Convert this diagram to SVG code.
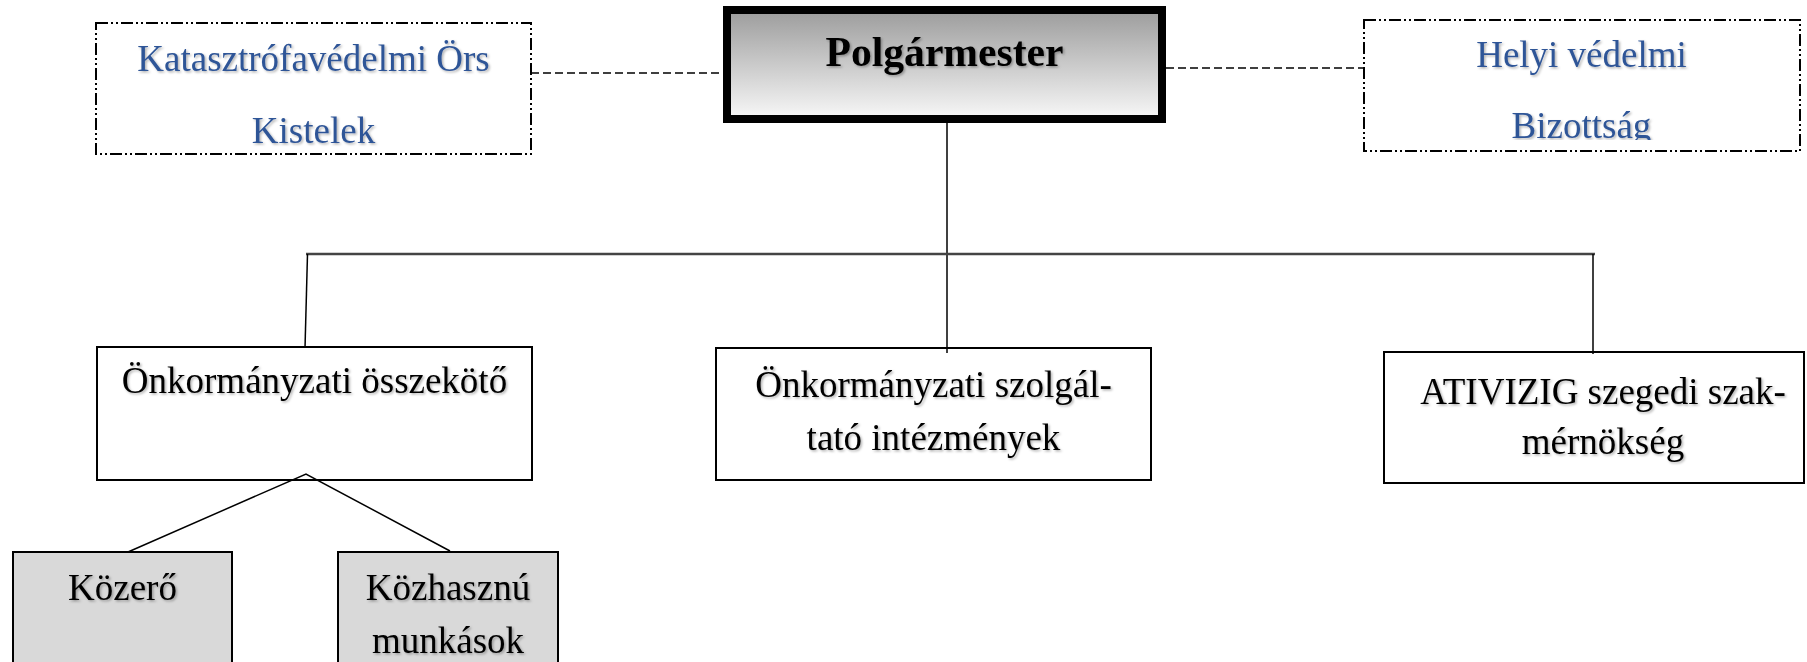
<svg xmlns="http://www.w3.org/2000/svg" width="1807" height="662" viewBox="0 0 1807 662">
<style>
.t{font-family:"Liberation Serif","Times New Roman",serif;font-size:37px;text-anchor:middle;fill:#000;filter:url(#sh)}
.b{fill:#2f5597}
.box{fill:#fff;stroke:#000;stroke-width:2}
.grey{fill:#d9d9d9;stroke:#000;stroke-width:2}
.dd{fill:#fff;stroke:#000;stroke-width:2;stroke-dasharray:12 3 2 3 2 3}
.c{fill:none;stroke:#000;stroke-width:1.5}
</style>
<defs>
<linearGradient id="g" x1="0" y1="0" x2="0" y2="1">
<stop offset="0" stop-color="#9c9c9c"/>
<stop offset="1" stop-color="#f8f8f8"/>
</linearGradient>
<filter id="sh" x="-5%" y="-20%" width="110%" height="150%">
<feDropShadow dx="1.5" dy="1.5" stdDeviation="1" flood-color="#000" flood-opacity="0.3"/>
</filter>
<clipPath id="clipR"><rect x="1364" y="20" width="436" height="120"/></clipPath>
</defs>
<g id="katasztrofavedelmi">
<rect class="dd" x="96" y="23" width="435" height="131"/>
<text class="t b" x="313.5" y="71">Katasztrófavédelmi Örs</text>
<text class="t b" x="313.5" y="143">Kistelek</text>
</g>
<g id="polgarmester">
<rect x="727" y="10" width="435" height="109" fill="url(#g)" stroke="#000" stroke-width="8"/>
<text class="t" x="944.5" y="66" style="font-weight:bold;font-size:41.6px">Polgármester</text>
</g>
<g id="helyi-vedelmi">
<rect class="dd" x="1364" y="20" width="436" height="131"/>
<g clip-path="url(#clipR)">
<text class="t b" x="1581.5" y="67">Helyi védelmi</text>
<text class="t b" x="1581.5" y="138">Bizottság</text>
</g>
</g>
<g id="osszekoto">
<rect class="box" x="97" y="347" width="435" height="133"/>
<text class="t" x="314.5" y="393">Önkormányzati összekötő</text>
</g>
<g id="szolgaltato">
<rect class="box" x="716" y="348" width="435" height="132"/>
<text class="t" x="933.5" y="397">Önkormányzati szolgál-</text>
<text class="t" x="933.5" y="450">tató intézmények</text>
</g>
<g id="ativizig">
<rect class="box" x="1384" y="352" width="420" height="131"/>
<text class="t" x="1603" y="404">ATIVIZIG szegedi szak-</text>
<text class="t" x="1603" y="454">mérnökség</text>
</g>
<g id="kozero">
<rect class="grey" x="13" y="552" width="219" height="130"/>
<text class="t" x="122.5" y="600">Közerő</text>
</g>
<g id="kozhasznu">
<rect class="grey" x="338" y="552" width="220" height="130"/>
<text class="t" x="448" y="600">Közhasznú</text>
<text class="t" x="448" y="653">munkások</text>
</g>
<g id="connectors">
<path class="c" d="M531 73 H723" stroke-dasharray="8 4"/>
<path class="c" d="M1166 68 H1363" stroke-dasharray="8 4"/>
<path class="c" d="M947 123 V353"/>
<path d="M306 254 H1595" fill="none" stroke="#444" stroke-width="2.5"/>
<path class="c" d="M307.5 254 L305 348"/>
<path class="c" d="M1593 254 V354"/>
<path class="c" d="M128 552 L306 474 L450 551"/>
</g>
</svg>
